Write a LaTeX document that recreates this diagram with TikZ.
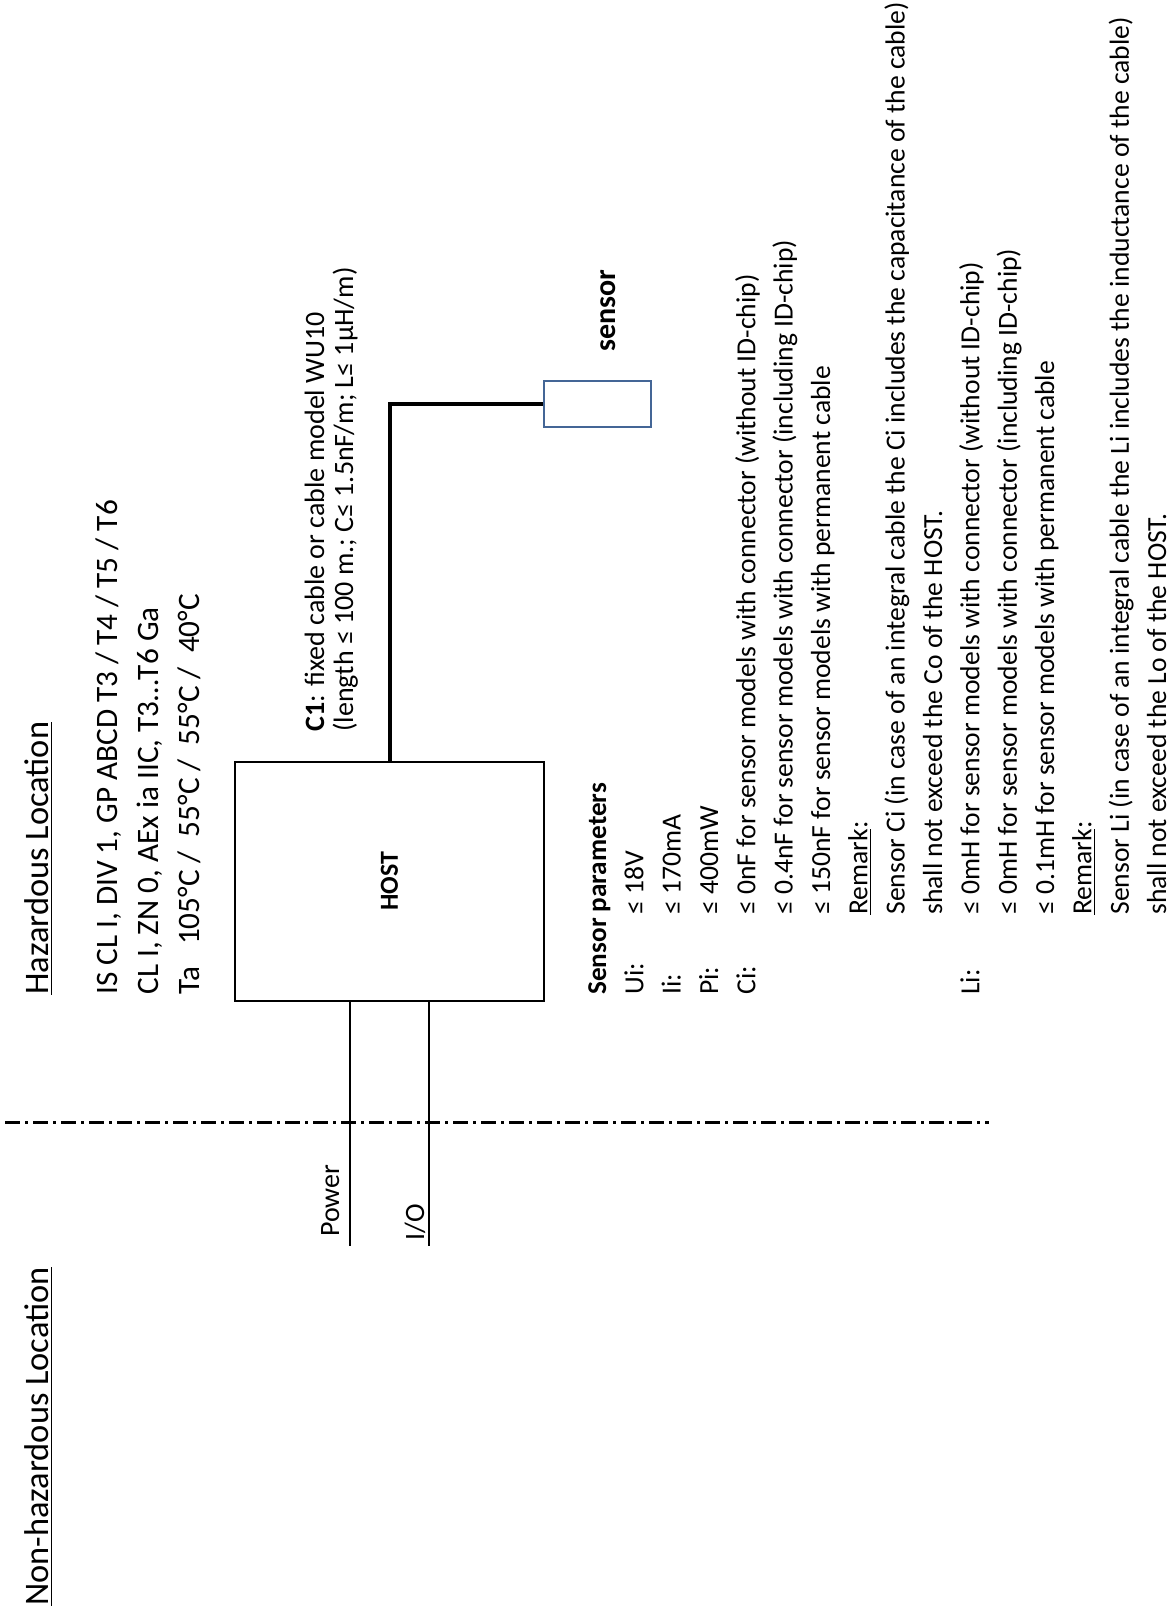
\documentclass[tikz,border=0pt]{standalone}
\usepackage{fontspec}
\setmainfont{Carlito}
\usetikzlibrary{positioning}
\definecolor{sensorblue}{RGB}{68,102,150}

\begin{document}
\begin{tikzpicture}[x=0.5pt, y=-0.5pt, font=\fontsize{14}{19}\selectfont]
\tikzstyle{box}=[draw, line width=1.3pt, inner sep=0pt]
\tikzstyle{txt}=[rotate=90, anchor=base west, inner sep=0pt]
\tikzstyle{wire}=[line width=0.8pt]
\useasboundingbox (0,0) rectangle (1173,1615);

% zone headings
\node[txt, font=\fontsize{17.2}{20}\selectfont] (haz) at (48,995) {\underline{Hazardous Location}};
\node[txt, font=\fontsize{17.2}{20}\selectfont] (nonhaz) at (48,1606) {\underline{Non-hazardous Location}};
\node[txt, font=\fontsize{15.6}{20.5}\selectfont] (marking) at (117,995) {\begin{tabular}[t]{@{}l@{}}
IS CL I, DIV 1, GP ABCD T3 / T4 / T5 / T6\\
CL I, ZN 0, AEx ia IIC, T3…T6 Ga\\
Ta\hspace{11pt}105°C /\ \ 55°C /\ \ 55°C /\ \ 40°C
\end{tabular}};

% zone border
\coordinate (zoneL) at (5,1122);
\coordinate (zoneR) at (989,1122);
\draw[line width=1.5pt, dash pattern=on 7.5pt off 2.5pt on 1.5pt off 2.5pt] (zoneL) -- (zoneR);

% host and sensor
\node[box, minimum width=154.5pt, minimum height=119.5pt] (host) at (389.5,881.5) {};
\node[rotate=90, font=\fontsize{13}{15}\bfseries] (hostlbl) at (host.center) {HOST};
\node[draw=sensorblue, line width=1pt, inner sep=0pt, minimum width=53.5pt, minimum height=23pt] (sensor) at (597.5,404) {};
\node[rotate=90, anchor=base, inner sep=0pt, font=\fontsize{15}{17}\bfseries] (sensorlbl) at (615,311) {sensor};
\draw[line width=2pt] (host.north) |- (sensor.west);
\node[txt, font=\fontsize{14}{14.5}\selectfont] (c1) at (324,732) {\begin{tabular}[t]{@{}l@{}}
\textbf{C1}: fixed cable or cable model WU10\\
(length ≤ 100 m.; C≤ 1.5nF/m; L≤ 1µH/m)
\end{tabular}};

% power and I/O
\coordinate (pwr) at (350,1246);
\coordinate (io) at (429,1246);
\draw[wire] (host.south -| pwr) -- (pwr);
\draw[wire] (host.south -| io) -- (io);
\node[txt] (pwrlbl) at (339,1237) {Power};
\node[txt] (iolbl) at (424,1241) {I/O};

% sensor parameters
\node[txt, font=\fontsize{13.8}{18.67}\selectfont] (params) at (606,995) {\begin{tabular}[t]{@{}p{40pt}@{}l@{}}
\multicolumn{2}{@{}l@{}}{\fontsize{13.6}{18.67}\bfseries Sensor parameters}\\
Ui: & ≤ 18V\\
Ii: & ≤ 170mA\\
Pi: & ≤ 400mW\\
Ci: & ≤ 0nF for sensor models with connector (without ID-chip)\\
    & ≤ 0.4nF for sensor models with connector (including ID-chip)\\
    & ≤ 150nF for sensor models with permanent cable\\
    & \underline{Remark}:\\
    & Sensor Ci (in case of an integral cable the Ci includes the capacitance of the cable)\\
    & shall not exceed the Co of the HOST.\\
Li: & ≤ 0mH for sensor models with connector (without ID-chip)\\
    & ≤ 0mH for sensor models with connector (including ID-chip)\\
    & ≤ 0.1mH for sensor models with permanent cable\\
    & \underline{Remark}:\\
    & Sensor Li (in case of an integral cable the Li includes the inductance of the cable)\\
    & shall not exceed the Lo of the HOST.
\end{tabular}};
\end{tikzpicture}
\end{document}
